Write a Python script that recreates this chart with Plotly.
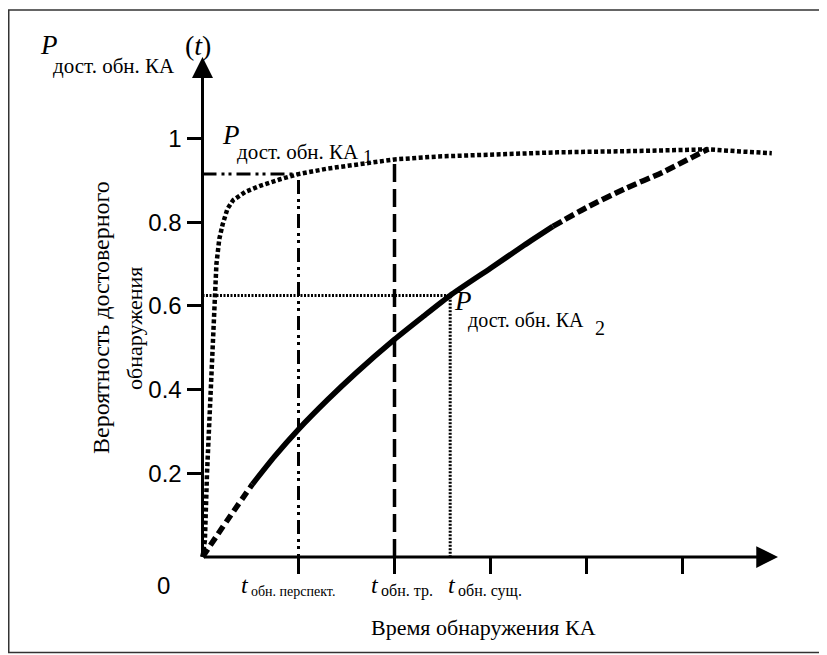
import plotly.graph_objects as go

# ---------------- data ----------------
curve1_x = [0, 0.025, 0.047, 0.075, 0.1, 0.12, 0.145, 0.175, 0.21, 0.26, 0.32, 0.45, 0.6, 0.8,
            1.0, 1.3, 1.65, 2.0, 2.45, 3.0, 3.7, 4.5, 5.27, 5.6, 5.93]
curve1_y = [0, 0.04, 0.2, 0.35, 0.48, 0.6, 0.7, 0.76, 0.795, 0.832, 0.853, 0.873, 0.887, 0.902,
            0.915, 0.928, 0.940, 0.950, 0.957, 0.962, 0.967, 0.970, 0.974, 0.969, 0.965]

curve2_x = [0, 0.25, 0.52, 0.75, 1.0, 1.3, 1.6, 2.0, 2.3, 2.58, 3.0, 3.35, 3.65,
            4.0, 4.4, 4.8, 5.1, 5.27]
curve2_y = [0, 0.085, 0.174, 0.24, 0.305, 0.375, 0.44, 0.52, 0.575, 0.625, 0.69, 0.745, 0.79,
            0.835, 0.880, 0.920, 0.955, 0.975]
curve2_solid_from = 0.52
curve2_solid_to = 3.65

t_persp, p_persp = 1.0, 0.915      # dash-dot guide
t_tr, p_tr = 2.0, 0.95             # dashed guide
t_sush, p_sush = 2.58, 0.625       # dotted guide

x_tickvals = [1, 2, 3, 4, 5]
y_tickvals = [0.2, 0.4, 0.6, 0.8, 1.0]
y_ticktext = ["0.2", "0.4", "0.6", "0.8", "1"]
x_end, y_end = 5.995, 1.195

# ---------------- geometry (page pixels; figure sits at the page's 8px body margin) ----------------
OFF = 8
W, H = 827 - OFF, 655 - OFF
X0, XU = 202.5 - OFF, 96.0
Y0, YU = 557.0 - OFF, 418.5
SERIF = "Liberation Serif"
SANS = "Liberation Sans"


def px(x):
    return (x - OFF) / W


def py(y):
    return 1 - (y - OFF) / H


fig = go.Figure()

# guides
fig.add_trace(go.Scatter(x=[0, t_persp, t_persp], y=[p_persp, p_persp, 0], mode="lines",
                         line=dict(color="black", width=3, dash="14px,5px,3px,4px,3px,5px")))
fig.add_trace(go.Scatter(x=[t_tr, t_tr], y=[0, p_tr], mode="lines",
                         line=dict(color="black", width=3.5, dash="18px,7px")))
fig.add_trace(go.Scatter(x=[0, t_sush, t_sush], y=[p_sush, p_sush, 0], mode="lines",
                         line=dict(color="black", width=3, dash="2px,1.5px")))

# curve 1
fig.add_trace(go.Scatter(x=curve1_x, y=curve1_y, mode="lines",
                         line=dict(color="black", width=4.5, dash="4px,2.5px")))

# curve 2 split into dashed / solid / dashed
seg_a = [(x, y) for x, y in zip(curve2_x, curve2_y) if x <= curve2_solid_from]
seg_b = [(x, y) for x, y in zip(curve2_x, curve2_y) if curve2_solid_from <= x <= curve2_solid_to]
seg_c = [(x, y) for x, y in zip(curve2_x, curve2_y) if x >= curve2_solid_to]
for seg, dash in ((seg_a, "9px,5px"), (seg_b, "solid"), (seg_c, "10px,4px")):
    fig.add_trace(go.Scatter(x=[p[0] for p in seg], y=[p[1] for p in seg], mode="lines",
                             line=dict(color="black", width=5.5, dash=dash,
                                       shape="spline", smoothing=0.6)))

annotations = []
# axis arrows (also draw the axis lines)
annotations.append(dict(x=x_end, y=0, ax=0, ay=0, xref="x", yref="y", axref="x", ayref="y",
                        text="", showarrow=True, arrowhead=2, arrowwidth=3, arrowsize=1.45,
                        arrowcolor="black"))
annotations.append(dict(x=0, y=y_end, ax=0, ay=0, xref="x", yref="y", axref="x", ayref="y",
                        text="", showarrow=True, arrowhead=2, arrowwidth=3, arrowsize=1.4,
                        arrowcolor="black"))


def txt(x, y, s, size, family=SERIF, xanchor="left", yanchor="middle", angle=0):
    annotations.append(dict(x=px(x), y=py(y), xref="paper", yref="paper", text=s,
                            showarrow=False, xanchor=xanchor, yanchor=yanchor, textangle=angle,
                            font=dict(family=family, size=size, color="black")))


# top-left axis label
txt(38, 45, "<i>P</i>", 27)
txt(51, 66, "дост. обн. КА", 21)
txt(198, 45, "(<i>t</i>)", 28, xanchor="center")

# curve labels
txt(220, 135, "<i>P</i>", 27)
txt(235, 152, "дост. обн. КА", 21)
txt(361, 156, "1", 19)
txt(452, 301, "<i>P</i>", 27)
txt(466, 320, "дост. обн. КА", 20)
txt(593, 328, "2", 20)

# x labels
for xs, sub, fs in ((239, "обн. перспект.", 14), (369, "обн. тр.", 16), (446, "обн. сущ.", 16)):
    txt(xs, 585, "<i>t</i>", 24)
    txt(xs + 10, 591, sub, fs)

txt(163, 585, "0", 24, family=SANS, xanchor="center")
txt(483, 627, "Время обнаружения КА", 22, xanchor="center")
txt(101, 318, "Вероятность достоверного", 24, xanchor="center", angle=-90)
txt(135, 328, "обнаружения", 22, xanchor="center", angle=-90)

fig.update_layout(
    width=W, height=H, margin=dict(l=0, r=0, t=0, b=0),
    paper_bgcolor="white", plot_bgcolor="white", showlegend=False,
    annotations=annotations,
    shapes=[dict(type="rect", xref="paper", yref="paper", x0=px(8.75), x1=px(825.5),
                 y0=py(652.5), y1=py(10), line=dict(color="#333333", width=1.5))],
    xaxis=dict(range=[-X0 / XU, (W - X0) / XU], anchor="free", position=(H - Y0) / H,
               showgrid=False, zeroline=False, showline=False, tickvals=x_tickvals,
               showticklabels=False, ticks="outside", ticklen=16, tickwidth=3, tickcolor="black"),
    yaxis=dict(range=[-(H - Y0) / YU, Y0 / YU], anchor="free", position=X0 / W,
               showgrid=False, zeroline=False, showline=False, tickvals=y_tickvals,
               ticktext=y_ticktext, ticks="outside", ticklen=16, tickwidth=3, tickcolor="black",
               tickfont=dict(family=SANS, size=24, color="black")),
)
fig.write_html("out.html")
